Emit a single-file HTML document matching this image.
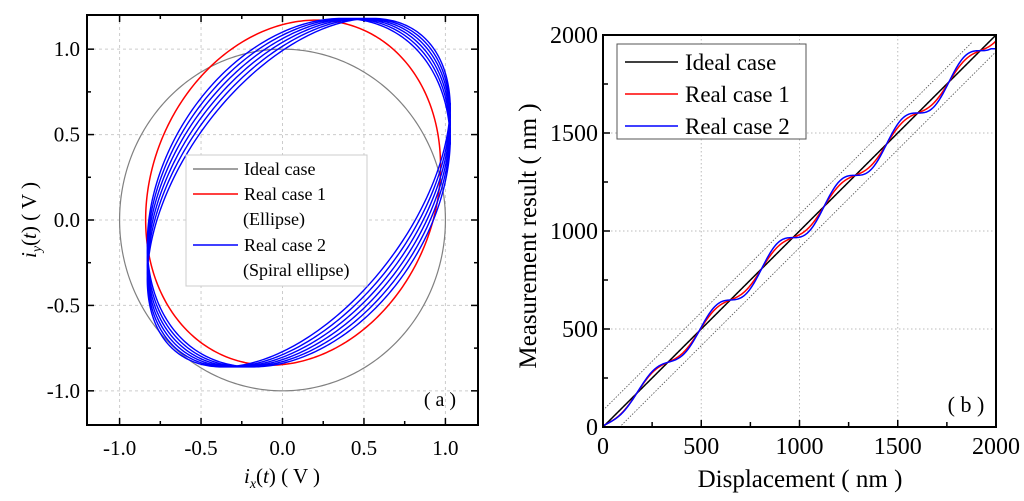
<!DOCTYPE html>
<html><head><meta charset="utf-8">
<style>
body{margin:0;background:#fff;}
svg{display:block;font-family:"Liberation Serif",serif;}
</style></head>
<body>
<svg id="fig" width="1024" height="501" viewBox="0 0 1024 501" xmlns="http://www.w3.org/2000/svg">
<g id="pa"></g>
<g id="pb"></g>
</svg>
<script>
// ---- Panel (a) data ----
const aTicks = [-1.0, -0.5, 0.0, 0.5, 1.0];
const aTickLabels = ["-1.0", "-0.5", "0.0", "0.5", "1.0"];
const idealRadius = [1.0];
// ellipse params: [xAmp, xOffset, yAmp, yOffset, phaseDeg]
const ellipse1 = [0.905, 0.065, 1.01, 0.16, 9];
const ellipse2 = [0.93, 0.10, 1.02, 0.16, 24];
const spiralTurns = [6];
const spiralPhase = [16, 31]; // phase drift start/end (deg)
// ---- Panel (b) data ----
const bTicks = [0, 500, 1000, 1500, 2000];
const bTickLabels = ["0", "500", "1000", "1500", "2000"];
const period = [318];
const phaseStart = [330];
const ampRed = [0.45, 0.55, 0.6, 0.6, 0.6, 0.6, 0.6, 0.6];
const ampBlue = [0.45, 0.7, 0.95, 1.0, 1.0, 1.0, 1.0, 1.0];
const blueCap = [1930];
const boundOffset = [85];

const NS = "http://www.w3.org/2000/svg";
function mk(parent, tag, attrs, text){
  const e = document.createElementNS(NS, tag);
  for (const k in attrs) e.setAttribute(k, attrs[k]);
  if (text !== undefined) e.textContent = text;
  parent.appendChild(e); return e;
}

// ---------- Panel a ----------
(function(){
  const g = document.getElementById('pa');
  const L=87,R=478,T=15,B=425;
  const sx = v => L + (v + 1.2) / 2.4 * (R - L);
  const sy = v => B - (v + 1.2) / 2.4 * (B - T);
  aTicks.forEach((t,i)=>{
    const gx = mk(g,'line',{x1:sx(t),x2:sx(t),y1:T,y2:B,stroke:'#ccc','stroke-dasharray':'3,3','stroke-width':1});
     
    const gy = mk(g,'line',{x1:L,x2:R,y1:sy(t),y2:sy(t),stroke:'#ccc','stroke-dasharray':'3,3','stroke-width':1});
     
    const lx = mk(g,'text',{x:sx(t),y:B+30,'font-size':21,'text-anchor':'middle'},aTickLabels[i]);
     
    const ly = mk(g,'text',{x:L-7,y:sy(t)+7,'font-size':21,'text-anchor':'end'},aTickLabels[i]);
     
  });
  for (let v=-1.0; v<=1.001; v+=0.25){
    const major = Math.abs(v*2-Math.round(v*2))<1e-6;
    const len = major?7:4;
    [[sx(v),B,sx(v),B-len],[sx(v),T,sx(v),T+len],[L,sy(v),L+len,sy(v)],[R,sy(v),R-len,sy(v)]].forEach(c=>{
      const tk = mk(g,'line',{x1:c[0],y1:c[1],x2:c[2],y2:c[3],stroke:'#000','stroke-width':1.5});
       
    });
  }
  function path(fn, n, tmax, color, w, name){
    let d='';
    for(let i=0;i<=n;i++){const t=i/n*tmax; const p=fn(t,i/n); d+=(i?'L':'M')+sx(p[0]).toFixed(2)+','+sy(p[1]).toFixed(2);}
    const e = mk(g,'path',{d:d,fill:'none',stroke:color,'stroke-width':w});
     
  }
  path(t=>[idealRadius[0]*Math.cos(t), idealRadius[0]*Math.sin(t)],360,2*Math.PI,'#808080',1.2,'ideal-circle');
  const p1=ellipse1;
  path(t=>[p1[0]*Math.cos(t)+p1[1], p1[2]*Math.sin(t+p1[4]*Math.PI/180)+p1[3]],360,2*Math.PI,'#ff0000',1.5,'real-case-1-ellipse');
  const p2=ellipse2, N=spiralTurns[0];
  path((t,f)=>{const ph=(spiralPhase[0]+(spiralPhase[1]-spiralPhase[0])*f)*Math.PI/180;
    return [p2[0]*Math.cos(t)+p2[1], p2[2]*Math.sin(t+ph)+p2[3]];},2400,2*Math.PI*N,'#0000ff',1.4,'real-case-2-spiral');
  const fr = mk(g,'rect',{x:L,y:T,width:R-L,height:B-T,fill:'none',stroke:'#000','stroke-width':2});
   
  const lg = mk(g,'g',{});
   
  mk(lg,'rect',{x:186,y:155,width:181,height:131,fill:'#fff',stroke:'#ccc','stroke-width':1});
  const rows=[['#808080','Ideal case',175,'legend-entry-ideal'],['#ff0000','Real case 1',200,'legend-entry-real-1'],[null,'(Ellipse)',225,'legend-note'],['#0000ff','Real case 2',251,'legend-entry-real-2'],[null,'(Spiral ellipse)',276,'legend-note']];
  rows.forEach(r=>{
    if(r[0]) mk(lg,'line',{x1:193,x2:238,y1:r[2]-6,y2:r[2]-6,stroke:r[0],'stroke-width':1.5});
    const tx = mk(lg,'text',{x:r[0]?244:243,y:r[2],'font-size':18},r[1]);
     
  });
  const pl = mk(g,'text',{x:440,y:406,'font-size':20,'text-anchor':'middle'},'( a )');
   
  const xt = mk(g,'text',{x:282,y:483,'font-size':21,'text-anchor':'middle'});
   
  xt.innerHTML='<tspan font-style="italic">i</tspan><tspan font-style="italic" font-size="14" dy="5">x</tspan><tspan dy="-5">(</tspan><tspan font-style="italic">t</tspan><tspan>) ( V )</tspan>';
  const yt = mk(g,'text',{x:0,y:0,'font-size':21,'text-anchor':'middle',transform:'translate(36,220) rotate(-90)'});
   
  yt.innerHTML='<tspan font-style="italic">i</tspan><tspan font-style="italic" font-size="14" dy="5">y</tspan><tspan dy="-5">(</tspan><tspan font-style="italic">t</tspan><tspan>) ( V )</tspan>';
})();

// ---------- Panel b ----------
(function(){
  const g = document.getElementById('pb');
  const L=603,R=996,T=35,B=427;
  const sx = v => L + v/2000*(R-L);
  const sy = v => B - v/2000*(B-T);
  bTicks.forEach((t,i)=>{
    if(t>0 && t<2000){
      const gx = mk(g,'line',{x1:sx(t),x2:sx(t),y1:T,y2:B,stroke:'#bbb','stroke-dasharray':'1.5,2.5','stroke-width':1});
       
      const gy = mk(g,'line',{x1:L,x2:R,y1:sy(t),y2:sy(t),stroke:'#bbb','stroke-dasharray':'1.5,2.5','stroke-width':1});
       
    }
    const lx = mk(g,'text',{x:sx(t),y:B+27,'font-size':24,'text-anchor':'middle'},bTickLabels[i]);
     
    const ly = mk(g,'text',{x:L-5,y:sy(t)+8,'font-size':24,'text-anchor':'end'},bTickLabels[i]);
     
  });
  for(let v=250; v<2000; v+=250){
    const len = v%500===0?7:5;
    [[sx(v),B,sx(v),B-len],[L,sy(v),L+len,sy(v)]].forEach(c=>{
      const tk = mk(g,'line',{x1:c[0],y1:c[1],x2:c[2],y2:c[3],stroke:'#000','stroke-width':1.5});
       
    });
  }
  const clip = mk(g,'clipPath',{id:'cb'}); mk(clip,'rect',{x:L,y:T,width:R-L,height:B-T});
  function line(fn,color,w,name,dash,x0,x1){
    let d=''; const n=500;
    for(let i=0;i<=n;i++){const x=x0+(x1-x0)*i/n; d+=(i?'L':'M')+sx(x).toFixed(2)+','+sy(fn(x)).toFixed(2);}
    const e = mk(g,'path',{d:d,fill:'none',stroke:color,'stroke-width':w,'clip-path':'url(#cb)'});
    if(dash) e.setAttribute('stroke-dasharray',dash);
     
  }
  const lam=period[0], x0=phaseStart[0], A=lam/(2*Math.PI);
  function ampAt(arr,x){ const c=x/lam; const i=Math.min(arr.length-2,Math.floor(c)); const f=Math.min(1,c-i); return arr[i]+(arr[i+1]-arr[i])*f; }
  line(x=>x+boundOffset[0],'#555',0.8,'upper-bound','1.5,1.5',0,1880);
  line(x=>x-boundOffset[0],'#555',0.8,'lower-bound','1.5,1.5',40,2000);
  line(x=>x,'#000',1.5,'ideal-line',null,0,2000);
  line(x=>Math.max(0,x-ampAt(ampRed,x)*A*Math.sin(2*Math.PI*(x-x0)/lam)),'#ff0000',1.5,'real-case-1-line',null,0,2000);
  line(x=>Math.max(0,Math.min(blueCap[0],x-ampAt(ampBlue,x)*A*Math.sin(2*Math.PI*(x-x0)/lam))),'#0000ff',1.5,'real-case-2-line',null,0,2000);
  const fr = mk(g,'rect',{x:L,y:T,width:R-L,height:B-T,fill:'none',stroke:'#000','stroke-width':2});
   
  const lg = mk(g,'g',{});
   
  mk(lg,'rect',{x:617,y:44,width:189,height:95,fill:'#fff',stroke:'#555','stroke-width':1});
  [['#000','Ideal case',70,'legend-entry-ideal'],['#ff0000','Real case 1',102,'legend-entry-real-1'],['#0000ff','Real case 2',134,'legend-entry-real-2']].forEach(r=>{
    mk(lg,'line',{x1:625,x2:678,y1:r[2]-8,y2:r[2]-8,stroke:r[0],'stroke-width':1.5});
    const tx = mk(lg,'text',{x:685,y:r[2],'font-size':23},r[1]);
     
  });
  const pl = mk(g,'text',{x:966,y:412,'font-size':22,'text-anchor':'middle'},'( b )');
   
  const xt = mk(g,'text',{x:800,y:487,'font-size':25,'text-anchor':'middle'},'Displacement ( nm )');
   
  const yt = mk(g,'text',{x:0,y:0,'font-size':25,'text-anchor':'middle',transform:'translate(536,236) rotate(-90)'},'Measurement result ( nm )');
   
})();
</script>
</body></html>
